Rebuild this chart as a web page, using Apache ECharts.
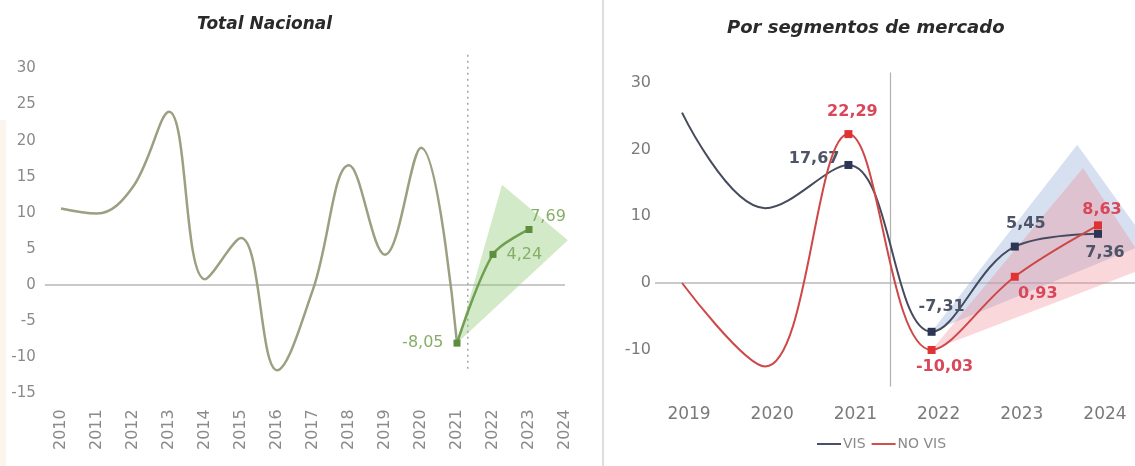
<!DOCTYPE html>
<html>
<head>
<meta charset="utf-8">
<script src="https://cdn.jsdelivr.net/npm/echarts@6/dist/echarts.min.js"></script>
<style>
  html, body { margin: 0; padding: 0; background: #ffffff; }
  #chart { width: 1135px; height: 466px; }
</style>
</head>
<body>
<div id="chart"></div>
<script>
// ---- Total Nacional: annual variation (%) ----
const yearsTotal = [2010, 2011, 2012, 2013, 2014, 2015, 2016, 2017, 2018, 2019, 2020, 2021, 2022, 2023, 2024];
const totalYTicks = [-15, -10, -5, 0, 5, 10, 15, 20, 25, 30];
const totalHistoryYears = [2010, 2011, 2012, 2013, 2014, 2015, 2016, 2017, 2018, 2019, 2020, 2021];
const totalHistory = [10.6, 9.9, 13.6, 24.0, 0.8, 6.5, -11.8, -0.6, 16.6, 4.2, 19.0, -8.05];
const totalForecastYears = [2021, 2022, 2023];
const totalForecast = [-8.05, 4.24, 7.69];
// fan (range) around the projection
const totalFanYears = [2021, 2022.25, 2024.08];
const totalFanValues = [-8.05, 13.9, 6.2];
// dotted marker where the projection starts
const totalSplitYears = [2021.3, 2021.3];
const totalSplitValues = [31.9, -11.8];

// ---- Por segmentos de mercado ----
const yearsSeg = [2019, 2020, 2021, 2022, 2023, 2024];
const segYTicks = [-10, 0, 10, 20, 30];
const visValues = [25.5, 11.2, 17.67, -7.31, 5.45, 7.36];
const noVisValues = [0, -12.5, 22.29, -10.03, 0.93, 8.63];
const visFanYears = [2022, 2023.75, 2024.6];
const visFanValues = [-7.31, 20.7, 6.0];
const noVisFanYears = [2022, 2023.82, 2024.6];
const noVisFanValues = [-10.03, 17.2, 2.4];
const segSplitYear = 2021.5;

const FONT = 'DejaVu Sans';
const fmt = v => v.toFixed(2).replace('.', ',');
const pairs = (xs, ys) => xs.map((x, i) => [x, ys[i]]);

// label placement for the annotated points
const totalLabelPos = [
  { position: 'left', offset: [-5, 0] },
  { position: 'right', offset: [5, 0] },
  { position: 'top', offset: [19, 4] }
];
const visLabelPos = [null, null,
  { position: 'left', offset: [0, -6] },
  { position: 'top', offset: [10, -8] },
  { position: 'top', offset: [11, -6] },
  { position: 'bottom', offset: [7, 2] }
];
const noVisLabelPos = [null, null,
  { position: 'top', offset: [4, -5] },
  { position: 'bottom', offset: [13, 0] },
  { position: 'bottom', offset: [23, 0] },
  { position: 'top', offset: [4, 2] }
];

function fanSeries(xAxisIndex, yAxisIndex, xs, ys, fill) {
  return {
    type: 'custom',
    xAxisIndex, yAxisIndex,
    silent: true,
    z: 1,
    clip: false,
    data: [pairs(xs, ys)[0]],
    renderItem: (params, api) => ({
      type: 'polygon',
      shape: { points: xs.map((x, i) => api.coord([x, ys[i]])) },
      style: { fill: fill }
    })
  };
}

function labelledPoints(xs, ys, positions, textColor, weight, size) {
  return xs.map((x, i) => {
    const p = positions[i];
    return {
      value: [x, ys[i]],
      symbol: p ? 'rect' : 'none',
      label: p ? {
        show: true, position: p.position, offset: p.offset,
        formatter: () => fmt(ys[i]),
        color: textColor, fontFamily: FONT, fontSize: size, fontWeight: weight
      } : { show: false }
    };
  });
}

const axisHidden = { axisLine: { show: false }, axisTick: { show: false }, splitLine: { show: false } };

const chart = echarts.init(document.getElementById('chart'), null, { renderer: 'canvas' });

chart.setOption({
  animation: false,
  backgroundColor: '#ffffff',
  title: [
    { text: 'Total Nacional', left: 192, top: 11,
      textStyle: { fontFamily: FONT, fontSize: 17, fontWeight: 'bold', fontStyle: 'italic', color: '#2a2a2a' } },
    { text: 'Por segmentos de mercado', left: 722, top: 14,
      textStyle: { fontFamily: FONT, fontSize: 18, fontWeight: 'bold', fontStyle: 'italic', color: '#2a2a2a' } }
  ],
  legend: {
    left: 812, top: 432,
    icon: 'rect', itemWidth: 24, itemHeight: 2, itemGap: 6,
    textStyle: { fontFamily: FONT, fontSize: 14, color: '#8a8a8a', padding: [0, 0, 0, -3] },
    data: [
      { name: 'VIS', itemStyle: { color: '#4a5064' } },
      { name: 'NO VIS', itemStyle: { color: '#d05050' } }
    ]
  },
  graphic: [
    { type: 'rect', shape: { x: 0, y: 120, width: 6, height: 346 }, style: { fill: '#fcf5ee' }, silent: true },
    { type: 'line', shape: { x1: 603, y1: 0, x2: 603, y2: 466 }, style: { stroke: '#dedede', lineWidth: 2 }, silent: true }
  ],
  grid: [
    { left: 44.8, right: 570, top: 54, bottom: 72.7, outerBoundsMode: 'none' },
    { left: 655, right: 0, top: 72.6, bottom: 79.5, outerBoundsMode: 'none' }
  ],
  xAxis: [
    Object.assign({
      type: 'value', gridIndex: 0, min: 2009.55, max: 2024,
      axisLabel: { customValues: yearsTotal, rotate: 90, margin: 16, formatter: v => String(v),
        color: '#8a8a8a', fontFamily: FONT, fontSize: 16 }
    }, axisHidden),
    Object.assign({
      type: 'value', gridIndex: 1, min: 2018.675, max: 2024.445,
      axisLabel: { customValues: yearsSeg, margin: 20, padding: [0, 0, 0, 14], formatter: v => String(v),
        color: '#7a7a7a', fontFamily: FONT, fontSize: 17 }
    }, axisHidden)
  ],
  yAxis: [
    Object.assign({
      type: 'value', gridIndex: 0, min: -15, max: 32,
      axisLabel: { customValues: totalYTicks, margin: 9, color: '#8a8a8a', fontFamily: FONT, fontSize: 15 }
    }, axisHidden),
    Object.assign({
      type: 'value', gridIndex: 1, min: -15.5, max: 31.5,
      axisLabel: { customValues: segYTicks, margin: 4, color: '#7a7a7a', fontFamily: FONT, fontSize: 16 }
    }, axisHidden)
  ],
  series: [
    // ---- left panel ----
    fanSeries(0, 0, totalFanYears, totalFanValues, 'rgba(150, 205, 125, 0.42)'),
    {
      type: 'line', name: 'Total', xAxisIndex: 0, yAxisIndex: 0,
      data: pairs(totalHistoryYears, totalHistory),
      smooth: 0.38, smoothConstraint: false, symbol: 'none', z: 3,
      lineStyle: { color: '#9d9f80', width: 2.5 },
      markLine: {
        silent: true, symbol: 'none', z: 1,
        label: { show: false },
        lineStyle: { color: '#c9c9c9', width: 2, type: 'solid' },
        data: [{ yAxis: 0 }]
      }
    },
    {
      type: 'line', name: 'Proyección', xAxisIndex: 0, yAxisIndex: 0,
      data: labelledPoints(totalForecastYears, totalForecast, totalLabelPos, '#86ae68', 'normal', 16),
      smooth: 0.3, smoothConstraint: false, symbolSize: 7, z: 4,
      lineStyle: { color: '#6f9f50', width: 2.5 },
      itemStyle: { color: '#5e8d3f' }
    },
    {
      type: 'line', name: 'Inicio', xAxisIndex: 0, yAxisIndex: 0,
      data: pairs(totalSplitYears, totalSplitValues),
      symbol: 'none', silent: true, z: 2,
      lineStyle: { color: '#a4a4a4', width: 1.5, type: [2, 4] }
    },
    // ---- right panel ----
    fanSeries(1, 1, visFanYears, visFanValues, 'rgba(160, 180, 220, 0.42)'),
    fanSeries(1, 1, noVisFanYears, noVisFanValues, 'rgba(240, 130, 140, 0.32)'),
    {
      type: 'line', name: 'VIS', xAxisIndex: 1, yAxisIndex: 1,
      data: labelledPoints(yearsSeg, visValues, visLabelPos, '#4e5468', 'bold', 16),
      smooth: 0.38, smoothConstraint: false, symbolSize: 8, z: 4,
      lineStyle: { color: '#464c5e', width: 2 },
      itemStyle: { color: '#2e3552' },
      markLine: {
        silent: true, symbol: 'none', z: 1,
        label: { show: false },
        data: [
          { yAxis: 0, lineStyle: { color: '#b8b8b8', width: 1.5, type: 'solid' } },
          { xAxis: segSplitYear, lineStyle: { color: '#b0b0b0', width: 1.2, type: 'solid' } }
        ]
      }
    },
    {
      type: 'line', name: 'NO VIS', xAxisIndex: 1, yAxisIndex: 1,
      data: labelledPoints(yearsSeg, noVisValues, noVisLabelPos, '#d9475a', 'bold', 16),
      smooth: 0.38, smoothConstraint: false, symbolSize: 8, z: 5,
      lineStyle: { color: '#cf4848', width: 2 },
      itemStyle: { color: '#e03232' }
    }
  ]
});
</script>
</body>
</html>
